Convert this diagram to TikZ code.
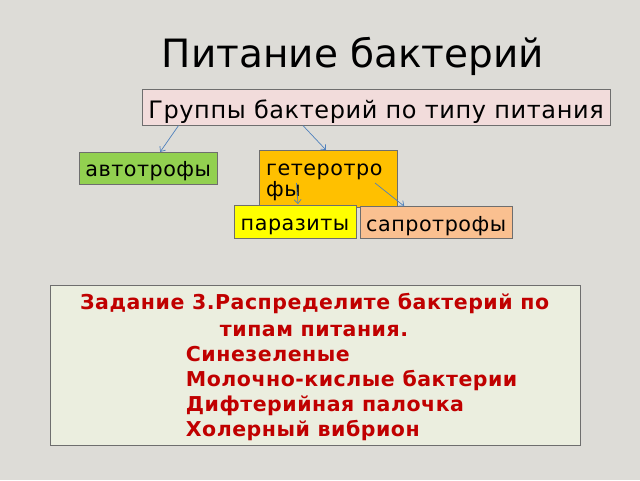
\documentclass[tikz,border=0pt]{standalone}
\usepackage{fontspec}
\setmainfont{DejaVu Sans}
\newfontfamily\lsfont[LetterSpace=2.5]{DejaVu Sans}
\usetikzlibrary{arrows.meta,calc}
\definecolor{bg}{RGB}{221,220,215}
\definecolor{pinkf}{RGB}{242,220,219}
\definecolor{greenf}{RGB}{146,208,80}
\definecolor{orangef}{RGB}{255,192,0}
\definecolor{yellowf}{RGB}{255,255,0}
\definecolor{peachf}{RGB}{250,192,144}
\definecolor{taskf}{RGB}{235,238,223}
\definecolor{edgec}{RGB}{110,110,110}
\definecolor{arrowc}{RGB}{79,129,189}
\definecolor{redt}{RGB}{192,0,0}
\tikzset{
  x=1pt,y=-1pt,
  box/.style={draw=edgec, line width=0.8pt, inner sep=0pt, outer sep=0pt, text depth=0pt},
  boxfont/.style={font=\lsfont\fontsize{20.7}{24}\selectfont},
  conn/.style={draw=arrowc, line width=0.7pt, -{Straight Barb[length=4pt,width=7pt]}},
  tasktext/.style={text=redt, font=\lsfont\fontsize{20.5}{24}\selectfont\bfseries, inner sep=0pt, anchor=base west},
}
\begin{document}
\begin{tikzpicture}
\fill[bg] (0,0) rectangle (640,480);
\useasboundingbox (0,0) rectangle (640,480);
% title
\node[inner sep=0pt, anchor=base, font=\fontsize{39}{44}\selectfont] (title) at (353,67) {Питание бактерий};
% groups
\node[box, fill=pinkf, minimum width=468, minimum height=36, text height=21.4pt, font=\lsfont\fontsize{24}{28}\selectfont] (g) at (376,107.6) {Группы бактерий по типу питания};
\node[box, boxfont, fill=greenf, minimum width=138, minimum height=32, text height=16.2pt] (auto) at (148.2,167.9) {автотрофы};
\node[box, fill=orangef, minimum width=138, minimum height=57, anchor=north west] (het) at (259,150) {};
\node[inner sep=0pt, anchor=base west, boxfont] (het1) at (266,175) {гетеротро};
\node[inner sep=0pt, anchor=base west, boxfont] (het2) at (266,196.7) {фы};
\node[box, boxfont, fill=yellowf, minimum width=122, minimum height=33, text height=17pt] (par) at (295,221.5) {паразиты};
\node[box, boxfont, fill=peachf, minimum width=152, minimum height=32, text height=19pt] (sap) at (436.2,222.2) {сапротрофы};
% connectors
\draw[conn] ($(g.south west)+(36.5,0)$) -- ($(auto.north west)+(81,0)$);
\draw[conn] ($(g.south west)+(161,0)$) -- ($(het.north west)+(67,0)$);
\draw[conn] ($(het.north west)+(37.5,33)$) -- ($(par.north west)+(64,-1)$);
\draw[conn] ($(het.north west)+(116,33)$) -- ($(sap.north west)+(44,0)$);
% task
\node[box, fill=taskf, minimum width=530, minimum height=159.5, anchor=north west] (task) at (50,285.7) {};
\node[tasktext, anchor=base] (t1) at (314.6,309.3) {Задание 3.Распределите бактерий по};
\node[tasktext, anchor=base] (t2) at (314,336) {типам питания.};
\node[tasktext] (t3) at (185.7,361) {Синезеленые};
\node[tasktext] (t4) at (185.7,386) {Молочно-кислые бактерии};
\node[tasktext] (t5) at (185.7,411.3) {Дифтерийная палочка};
\node[tasktext] (t6) at (185.7,436.7) {Холерный вибрион};
\end{tikzpicture}
\end{document}
